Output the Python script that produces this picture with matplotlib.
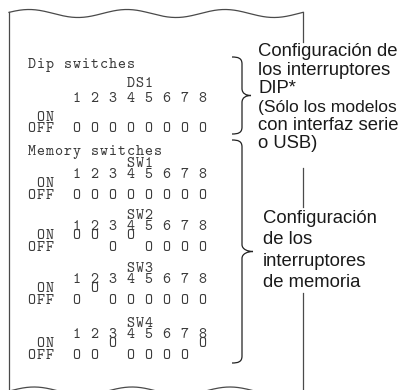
import numpy as np
import matplotlib
matplotlib.use("Agg")
from matplotlib import pyplot as plt
from matplotlib.path import Path
from matplotlib.patches import PathPatch

# switch settings (1 = ON, 0 = OFF)
switch_numbers = [1, 2, 3, 4, 5, 6, 7, 8]
ds1 = [0, 0, 0, 0, 0, 0, 0, 0]
sw1 = [0, 0, 0, 0, 0, 0, 0, 0]
sw2 = [1, 1, 0, 1, 0, 0, 0, 0]
sw3 = [0, 1, 0, 0, 0, 0, 0, 0]
sw4 = [0, 0, 1, 0, 0, 0, 0, 1]
memory_names = ["SW1", "SW2", "SW3", "SW4"]
memory_switches = [sw1, sw2, sw3, sw4]

dip_label = ["Configuración de", "los interruptores", "DIP*",
             "(Sólo los modelos", "con interfaz serie", "o USB)"]
mem_label = ["Configuración", "de los", "interruptores", "de memoria"]

W, H = 403, 390
MONO = "cmtt10"
SANS = "Liberation Sans"
INK = "#3a3a3a"
EDGE = "#4a4a4a"
X0 = 27.0   # left of first char cell
CW = 9.0    # char pitch

fig = plt.figure(figsize=(W / 100, H / 100), dpi=100)
ax = fig.add_axes([0, 0, 1, 1])
ax.set_xlim(0, W)
ax.set_ylim(H, 0)
ax.axis("off")


def row(text, y, size=11):
    # monospaced line: put every char in its own cell
    for i, ch in enumerate(text):
        if ch != " ":
            ax.text(X0 + (i + 0.5) * CW, y, ch, fontsize=size, family=MONO,
                    color=INK, ha="center", va="baseline")


def state_rows(states, y_on, y_off):
    on = " ON  " + " ".join("O" if s else " " for s in states)
    off = "OFF  " + " ".join(" " if s else "O" for s in states)
    row(on, y_on)
    row(off, y_off)


nums = "     " + " ".join(str(n) for n in switch_numbers)

# dip switch block
row("Dip switches", 68)
row("           DS1", 87)
row(nums, 102)
state_rows(ds1, 121, 132)

# memory switch blocks
row("Memory switches", 155)
block_tops = [167, 219, 272, 327]
for name, states, yt in zip(memory_names, memory_switches, block_tops):
    row("           " + name, yt)
    row(nums, yt + 11)
    state_rows(states, yt + 20, yt + 32)

# paper outline
xs = np.linspace(9, 303, 300)
top = 13.5 - 4 * np.cos(2 * np.pi * (xs - 127) / 98)
ax.plot(xs, top, color=EDGE, lw=0.9)
ax.plot([9, 9], [top[0], H], color=EDGE, lw=0.9)
for y0, y1 in [(top[-1], 42), (168, 207), (293, H)]:
    ax.plot([303, 303], [y0, y1], color=EDGE, lw=0.9)
bottom = 391 - 4 * np.cos(2 * np.pi * (xs - 132) / 98)
ax.plot(xs, bottom, color=EDGE, lw=0.9, clip_on=True)


def brace(top_y, bot_y, xl=232, xs_=242, xt=251, r=7):
    mid = (top_y + bot_y) / 2
    verts = [(xl, top_y),
             (xl + 6, top_y), (xs_, top_y + 1), (xs_, top_y + r),
             (xs_, mid - r),
             (xs_, mid - 2), (xt - 5, mid), (xt, mid),
             (xt - 5, mid), (xs_, mid + 2), (xs_, mid + r),
             (xs_, bot_y - r),
             (xs_, bot_y - 1), (xl + 6, bot_y), (xl, bot_y)]
    codes = [Path.MOVETO,
             Path.CURVE4, Path.CURVE4, Path.CURVE4,
             Path.LINETO,
             Path.CURVE4, Path.CURVE4, Path.CURVE4,
             Path.CURVE4, Path.CURVE4, Path.CURVE4,
             Path.LINETO,
             Path.CURVE4, Path.CURVE4, Path.CURVE4]
    ax.add_patch(PathPatch(Path(verts, codes), fill=False, edgecolor="#222222", lw=0.9))


brace(57, 134)
brace(140, 363, xt=253)

# the long line is set tighter in the original so it fits the page
dip_sizes = [13.3, 13.3, 13.3, 12.6, 13.3, 13.3]
for i, line in enumerate(dip_label):
    ax.text(258, 56.5 + i * 18.4, line, fontsize=dip_sizes[i], family=SANS,
            color="#1a1a1a", ha="left", va="baseline")
for i, line in enumerate(mem_label):
    ax.text(263, 223 + i * 21.3, line, fontsize=13.3, family=SANS,
            color="#1a1a1a", ha="left", va="baseline")

fig.savefig("out.png", dpi=100, facecolor="white")
